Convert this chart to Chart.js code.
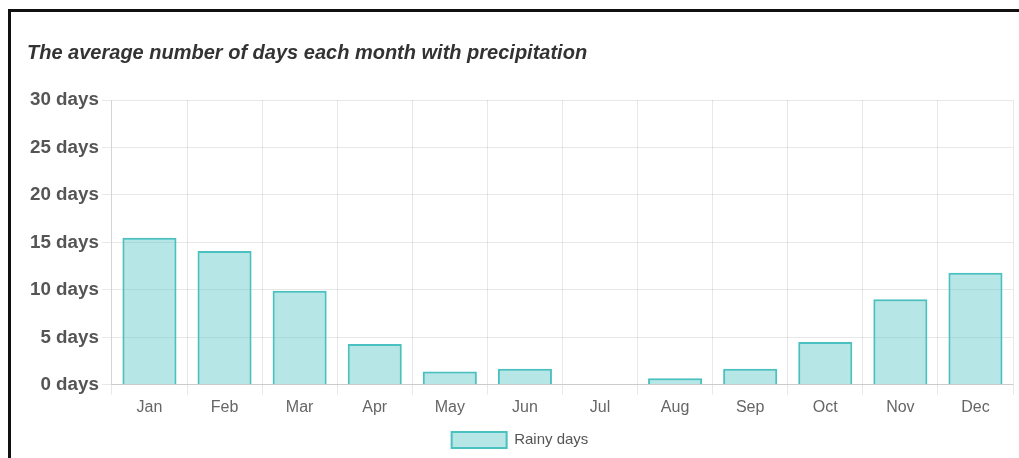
<!DOCTYPE html>
<html>
<head>
<meta charset="utf-8">
<script src="https://cdn.jsdelivr.net/npm/chart.js@4"></script>
<style>
  html, body { margin: 0; padding: 0; background: #fff; overflow: hidden; }
  #frame {
    position: absolute; left: 8px; top: 9px;
    width: 1008px; height: 446px;
    border-top: 3px solid #111; border-left: 3px solid #111;
  }
  #wrap { position: relative; width: 1008px; height: 446px; }
</style>
</head>
<body>
<div id="frame"><div id="wrap"><canvas id="rainChart"></canvas></div></div>
<script>
//Chart data
const months = ['Jan', 'Feb', 'Mar', 'Apr', 'May', 'Jun', 'Jul', 'Aug', 'Sep', 'Oct', 'Nov', 'Dec'];
const rainyDays = [15.5, 14.1, 9.9, 4.3, 1.4, 1.7, 0, 0.7, 1.7, 4.5, 9.0, 11.8];
const yTicks = [0, 5, 10, 15, 20, 25, 30];

//Create Bar Chart
function createChart() {
  const ctx = document.getElementById('rainChart').getContext('2d');

  /* global Chart */
  return new Chart(ctx, {
    type: 'bar',
    data: {
      labels: months,
      datasets: [{
        label: 'Rainy days',
        data: rainyDays,
        backgroundColor: 'rgba(75, 192, 192, 0.4)',
        borderColor: 'rgba(75, 192, 192, 1)',
        borderWidth: 2
      }]
    },
    options: {
      responsive: true,
      maintainAspectRatio: false,
      animation: false,
      layout: { padding: { left: 16, right: 6, top: 0, bottom: 0 } },
      scales: {
        y: {
          min: yTicks[0],
          max: yTicks[yTicks.length - 1],
          ticks: {
            stepSize: 5,
            padding: 3,
            color: '#555',
            font: { family: 'Liberation Sans', size: 18.8, weight: 'bold' },
            callback: (v) => v + ' days'
          },
          grid: { tickLength: 10, color: 'rgba(0,0,0,0.09)' },
          border: { color: 'rgba(0,0,0,0.09)' }
        },
        x: {
          ticks: {
            padding: 3,
            color: '#666',
            font: { family: 'Liberation Sans', size: 16 }
          },
          grid: { tickLength: 10, color: 'rgba(0,0,0,0.09)' },
          border: { color: 'rgba(0,0,0,0.12)' }
        }
      },
      plugins: {
        title: {
          display: true,
          text: 'The average number of days each month with precipitation',
          align: 'start',
          color: '#333',
          font: { family: 'Liberation Sans', size: 20, weight: 'bold', style: 'italic' },
          padding: { top: 29, bottom: 35 }
        },
        legend: {
          position: 'bottom',
          labels: {
            boxWidth: 55,
            boxHeight: 16,
            padding: 12,
            color: '#555',
            font: { family: 'Liberation Sans', size: 15 }
          }
        },
        tooltip: { enabled: false }
      }
    }
  });
}

document.addEventListener('DOMContentLoaded', createChart);
</script>
</body>
</html>
